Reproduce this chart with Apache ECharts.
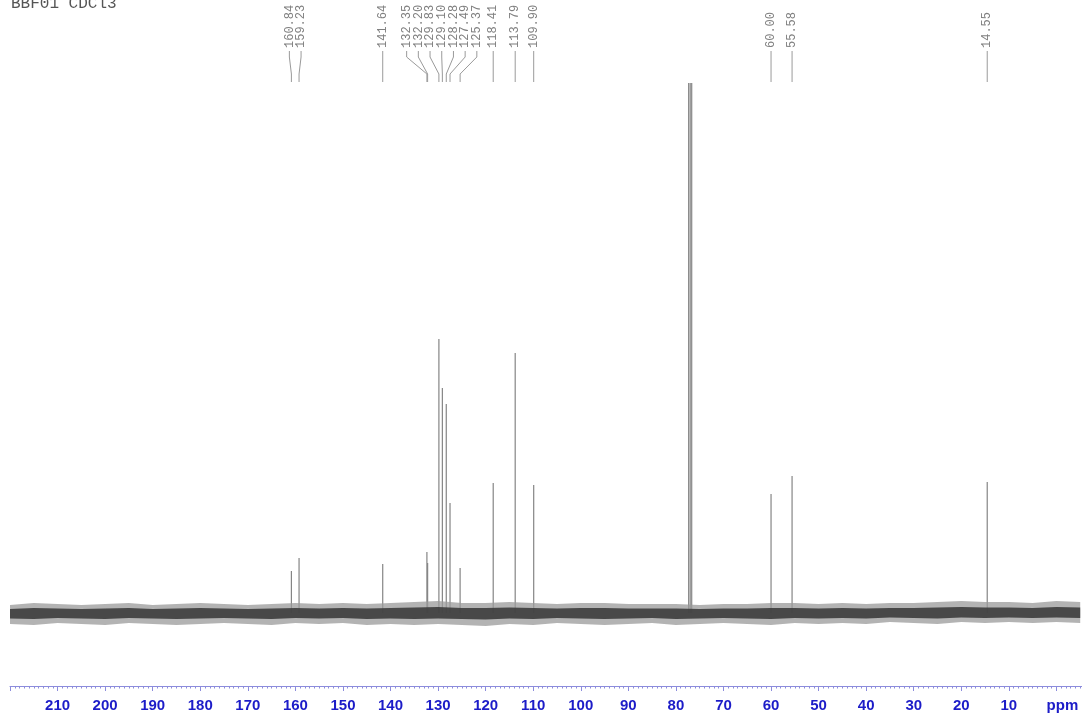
<!DOCTYPE html>
<html><head><meta charset="utf-8">
<script src="https://cdn.jsdelivr.net/npm/echarts@6/dist/echarts.min.js"></script>
<style>html,body{margin:0;padding:0;background:#fff}#c{width:1082px;height:718px}</style>
</head><body><div id="c"></div>
<script>
// 13C NMR peaks (ppm) and heights (arbitrary intensity units above baseline)
const peakPpm    = [160.84, 159.23, 141.64, 132.35, 132.20, 129.83, 129.10, 128.28, 127.49, 125.37, 118.41, 113.79, 109.90, 60.00, 55.58, 14.55];
const peakHeight = [42, 55, 49, 61, 50, 274, 225, 209, 110, 45, 130, 260, 128, 119, 137, 131];
// CDCl3 solvent triplet (unlabelled)
const solventPpm    = [77.32, 77.00, 76.68];
const solventHeight = [530, 530, 530];
// labelled shifts
const labelPpm = [160.84, 159.23, 141.64, 132.35, 132.20, 129.83, 129.10, 128.28, 127.49, 125.37, 118.41, 113.79, 109.90, 60.00, 55.58, 14.55];
// baseline noise envelope
const noisePpm  = [220,215,210,205,200,195,190,185,180,175,170,165,160,155,150,145,140,135,130,125,120,115,110,105,100,95,90,85,80,75,70,65,60,55,50,45,40,35,30,25,20,15,10,5,0,-5];
const noiseHigh = [8,10,9,8,9,10,8,9,10,9,8,9,10,9,10,9,10,11,12,10,10,11,10,9,10,10,9,9,9,8,9,9,10,10,9,10,9,10,10,11,12,11,11,10,12,11];
const noiseLow  = [-11,-12,-10,-11,-12,-10,-11,-12,-11,-10,-11,-12,-10,-11,-10,-12,-11,-12,-11,-12,-13,-11,-12,-10,-11,-12,-11,-10,-12,-11,-10,-11,-12,-10,-11,-10,-11,-9,-10,-11,-9,-10,-9,-10,-9,-10];
const title = 'BBF01 CDCl3';

const chart = echarts.init(document.getElementById('c'), null, {renderer:'canvas'});
const axisBlue = '#1c1cc8';
const axisLineColor = '#8c8cdc';

const peakData = peakPpm.map((p,i)=>[p, peakHeight[i]]).concat(solventPpm.map((p,i)=>[p, solventHeight[i]]));

chart.setOption({
  animation:false,
  backgroundColor:'#fff',
  grid:{left:10, top:83, width:1094, height:603, containLabel:false, outerBoundsMode:'none'},
  xAxis:{
    type:'value', min:-10, max:220, interval:10, inverse:true,
    axisLine:{onZero:false, lineStyle:{color:axisLineColor, width:1}},
    axisTick:{show:true, length:5, lineStyle:{color:axisLineColor}},
    minorTick:{show:true, splitNumber:10, length:2.5, lineStyle:{color:axisLineColor}},
    splitLine:{show:false}, minorSplitLine:{show:false},
    axisLabel:{
      color:axisBlue, fontWeight:'bold', fontSize:15, fontFamily:'"Liberation Sans", Arial, sans-serif', margin:12,
      showMinLabel:false, showMaxLabel:false,
      formatter:function(v){ if (v>215 || v<0) return ''; if (v===0) return '{p|ppm}'; return String(v); },
      rich:{p:{color:axisBlue, fontWeight:'bold', fontSize:15, fontFamily:'"Liberation Sans", Arial, sans-serif', padding:[0,0,0,12]}}
    }
  },
  yAxis:{type:'value', min:-73, max:530, show:false},
  series:[
    {
      type:'custom', z:1, clip:true,
      data: peakData,
      renderItem:function(params, api){
        const p0 = api.coord([api.value(0), 0]);
        const p1 = api.coord([api.value(0), api.value(1)]);
        return {type:'line', shape:{x1:p0[0], y1:p0[1], x2:p1[0], y2:p1[1]}, style:{stroke:'#858585', lineWidth:1.2}};
      }
    },
    {
      type:'custom', z:2, clip:true,
      data:[[0,0]],
      renderItem:function(params, api){
        const outer = [], inner = [];
        for (let i=0;i<noisePpm.length;i++){ outer.push(api.coord([noisePpm[i], noiseHigh[i]])); inner.push(api.coord([noisePpm[i], noiseHigh[i]*0.5])); }
        for (let i=noisePpm.length-1;i>=0;i--){ outer.push(api.coord([noisePpm[i], noiseLow[i]])); inner.push(api.coord([noisePpm[i], noiseLow[i]*0.5])); }
        return {type:'group', children:[
          {type:'polygon', shape:{points:outer}, style:{fill:'#9a9a9a', opacity:0.75}},
          {type:'polygon', shape:{points:inner}, style:{fill:'#3c3c3c', opacity:0.9}}
        ]};
      }
    }
  ]
});

function spread(xs, gap){
  const items = xs.map((x,i)=>({x:x, i:i})).sort((a,b)=>a.x-b.x);
  const groups = items.map(it=>({members:[it], center:it.x}));
  let changed = true;
  while (changed){
    changed = false;
    for (let k=0;k<groups.length-1;k++){
      const a = groups[k], b = groups[k+1];
      const aEnd = a.center + (a.members.length-1)*gap/2;
      const bStart = b.center - (b.members.length-1)*gap/2;
      if (bStart - aEnd < gap){
        const m = a.members.concat(b.members);
        const c = m.reduce((s,t)=>s+t.x,0)/m.length;
        groups.splice(k,2,{members:m, center:c});
        changed = true; break;
      }
    }
  }
  const out = new Array(xs.length);
  groups.forEach(g=>{ const n=g.members.length; g.members.forEach((t,j)=>{ out[t.i] = g.center + (j-(n-1)/2)*gap; }); });
  return out;
}

const px = labelPpm.map(p=>chart.convertToPixel({xAxisIndex:0}, p));
const lx = spread(px, 11.7);
const graphics = [];
labelPpm.forEach((p,i)=>{
  graphics.push({type:'text', x:lx[i], y:48, rotation:Math.PI/2, silent:true,
    style:{text:p.toFixed(2), font:'12px "Liberation Mono", monospace', fill:'#808080', align:'left', verticalAlign:'middle'}});
  graphics.push({type:'polyline', silent:true,
    shape:{points:[[lx[i],51],[lx[i],57],[px[i],74],[px[i],82]]},
    style:{stroke:'#9a9a9a', lineWidth:1, fill:null}});
});
graphics.push({type:'text', x:11, y:12, silent:true,
  style:{text:title, font:'16px "Liberation Mono", monospace', fill:'#555', verticalAlign:'bottom'}});
chart.setOption({graphic:graphics});
</script>
</body></html>
